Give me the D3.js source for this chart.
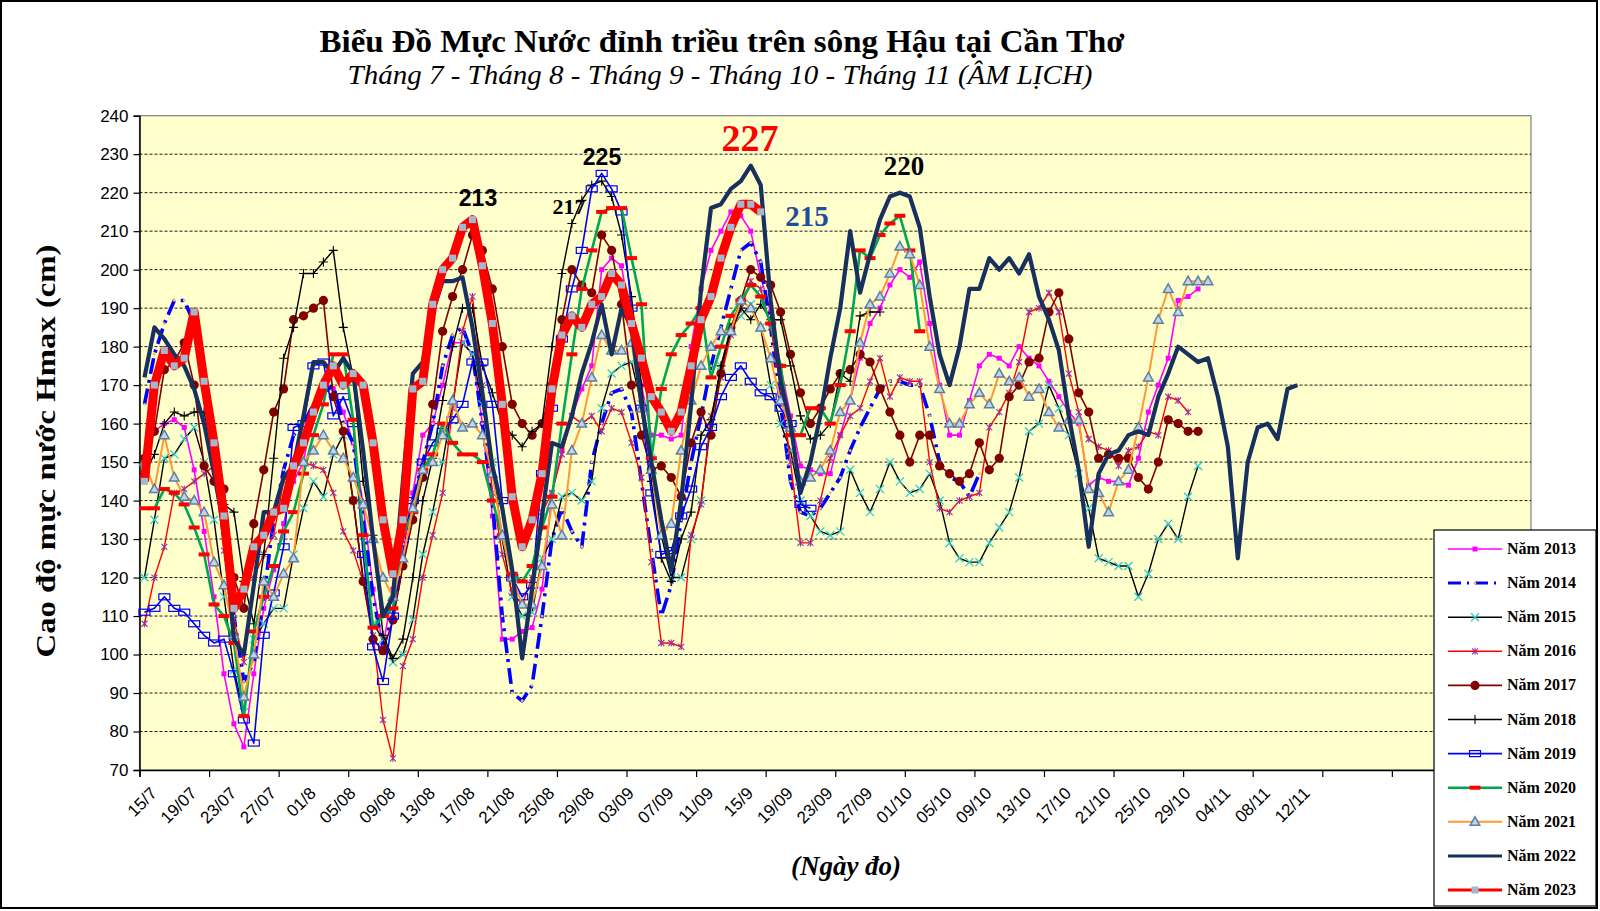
<!DOCTYPE html>
<html><head><meta charset="utf-8">
<script src="https://cdnjs.cloudflare.com/ajax/libs/d3/7.8.5/d3.min.js"></script>
<style>body{margin:0;background:#fff}svg{display:block}</style>
</head><body><svg id="c" width="1600" height="911"></svg>
<script>
// ---------- DATA ----------
const dayLabels = ["15/7","19/07","23/07","27/07","01/8","05/08","09/08","13/08","17/08","21/08","25/08","29/08","03/09","07/09","11/09","15/9","19/09","23/09","27/09","01/10","05/10","09/10","13/10","17/10","21/10","25/10","29/10","04/11","08/11","12/11"];
const yTicks = [70,80,90,100,110,120,130,140,150,160,170,180,190,200,210,220,230,240];
const seriesNames = ["Năm 2013","Năm 2014","Năm 2015","Năm 2016","Năm 2017","Năm 2018","Năm 2019","Năm 2020","Năm 2021","Năm 2022","Năm 2023"];

const y2013 = [150,158,160,161,159,148,132,115,95,82, 76,95,112,122,134,145,150,164,171,169, 163,155,139,117,102,117,126,142,157,160, 170,181,181,178,160,136,104,104,106,107, 117,142,153,162,169,175,200,203,201,185, 170,157,157,156,157,180,195,205,210,215, 214,210,198,189,175,162,149,148,147,147, 157,166,177,186,190,196,200,198,202,186, 170,157,157,166,175,178,177,175,180,177, 175,171,167,163,160,144,146,145,145,144, 151,163,170,177,192,193,195];
const y2014 = [165,178,186,192,192,186,170,150,130,110, 93,98,115,135,148,157,160,165,168,170, 160,155,135,115,102,110,125,140,150,160, 175,183,185,178,160,140,110,90,88,92, 110,130,138,132,128,150,160,168,169,163, 145,127,110,118,135,150,162,175,185,195, 205,207,202,185,165,145,137,136,138,142, 146,153,159,164,169,171,171,170,170,162, 150,146,145,141,147];
const y2015 = [120,135,151,152,156,159,150,135,115,96, 85,104,108,112,112,126,138,145,141,152, 157,140,120,108,104,98,100,109,126,137, 150,165,181,178,165,150,130,115,110,111, 125,130,141,142,140,145,164,173,175,176, 165,151,131,120,120,130,140,160,175,185, 188,191,185,170,160,153,140,136,132,131, 132,148,142,137,143,150,145,142,143,147, 140,129,125,124,124,129,133,137,146,158, 160,170,164,157,147,138,125,124,123,123, 115,121,130,134,130,141,149];
const y2016 = [108,120,128,142,143,145,147,149,127,109, 98,120,126,131,145,149,150,149,148,142, 132,127,119,105,83,73,97,104,120,131, 142,164,184,193,170,142,126,116,113,120, 137,142,152,162,160,162,158,164,163,155, 146,124,103,103,102,131,139,162,172,183, 190,197,195,185,170,150,129,129,140,151, 157,162,164,171,177,167,172,171,171,150, 138,137,140,141,142,159,163,168,176,189, 190,194,189,173,163,156,154,153,149,153, 154,158,157,167,166,163];
const y2017 = [151,158,174,176,181,170,149,145,143,120, 112,134,148,163,169,187,188,190,192,167, 158,140,119,104,101,109,123,135,146,165, 184,193,200,209,205,195,180,165,160,157, 160,170,187,200,196,194,209,205,191,170, 157,148,149,146,141,155,163,157,173,185, 192,200,198,196,189,178,168,160,164,169, 173,174,178,176,169,163,157,150,157,157, 149,147,145,147,155,148,151,167,170,176, 177,189,194,182,168,163,151,152,151,151, 146,143,150,161,160,158,158];
const y2018 = [147,152,160,163,162,163,163,151,139,137, 119,108,126,151,177,185,199,199,202,205, 185,172,145,131,105,99,104,120,140,151, 166,180,190,190,175,168,160,157,154,158, 160,180,199,212,218,222,223,219,209,193, 170,145,125,119,130,137,157,161,175,184, 190,187,191,187,187,175,162,156,157,160, 173,171,188,189,189];
const y2019 = [111,112,115,112,111,108,105,103,104,95, 83,77,105,116,128,159,160,175,176,162, 167,160,126,102,93,110,130,140,150,155, 158,161,165,176,176,165,140,120,115,118, 147,164,182,195,205,221,225,221,215,190, 164,142,126,127,136,143,154,159,167,172, 175,171,168,167,164,160,139,138];
const y2020 = [138,138,143,142,139,133,126,113,110,103, 84,106,115,123,132,137,147,157,165,178, 178,161,131,107,110,112,131,137,148,152, 160,155,152,152,150,140,131,121,119,123, 133,141,160,178,195,205,215,216,216,203, 191,151,169,178,183,186,190,172,180,188, 192,196,193,186,175,157,157,164,164,160, 170,184,205,203,209,212,214,205,184];
const y2021 = [150,143,157,146,141,140,137,124,118,105, 89,100,119,115,121,125,150,153,157,153, 151,146,139,130,120,115,125,138,148,150, 157,166,159,160,157,147,131,120,113,113, 123,139,131,153,160,172,183,179,179,181, 164,148,131,134,153,166,175,180,184,184, 192,190,185,177,166,159,145,146,148,153, 163,166,181,191,193,199,206,204,196,180, 169,160,160,165,168,165,173,171,172,167, 169,163,159,161,161,143,142,137,145,148, 159,172,187,195,189,197,197,197];
const y2022 = [172,185,182,178,175,169,160,147,133,104, 100,118,137,137,146,149,162,176,176,173, 177,173,153,130,110,115,145,173,176,189, 197,197,198,185,168,149,138,122,99,117, 136,155,154,162,173,181,191,178,190,185, 165,150,135,122,140,165,195,216,217,221, 223,227,222,192,171,160,142,150,162,177, 190,210,194,204,213,219,220,219,211,193, 178,170,180,195,195,203,200,203,199,204, 193,187,179,162,148,128,147,152,153,157, 158,157,167,173,180,178,176,177,167,154, 125,150,159,160,156,169,170];
const y2023 = [145,170,179,175,177,189,171,155,136,112, 117,128,131,137,138,149,155,163,170,175, 170,173,170,155,135,121,135,169,171,191, 200,203,211,213,201,186,165,141,128,135, 147,169,183,188,185,191,193,199,196,186, 177,167,163,158,163,175,187,193,203,211, 217,217,215];

const annotations = [
  {text:"213", x:478, y:206, size:23, fam:"Liberation Sans, Arial", color:"#000"},
  {text:"225", x:602, y:165, size:23, fam:"Liberation Sans, Arial", color:"#000"},
  {text:"217", x:569, y:214, size:22, fam:"Liberation Serif, Times New Roman", color:"#000"},
  {text:"227", x:750, y:151, size:38, fam:"Liberation Serif, Times New Roman", color:"#FF0000"},
  {text:"215", x:807, y:226, size:29, fam:"Liberation Serif, Times New Roman", color:"#1F4E99"},
  {text:"220", x:904, y:175, size:27, fam:"Liberation Serif, Times New Roman", color:"#000"}
];

// ---------- LAYOUT ----------
const svg = d3.select("#c");
const P = {l:139.5, r:1531, t:115.7, b:770};
const NCAT = 140;
const x = d3.scaleLinear().domain([0, NCAT]).range([P.l, P.r]);
const y = d3.scaleLinear().domain([70, 240]).range([P.b, P.t]);
const cx = d => x(d + 0.5);

svg.append("rect").attr("x",1).attr("y",1).attr("width",1596).attr("height",907)
  .attr("fill","#fff").attr("stroke","#000").attr("stroke-width",2);

svg.append("rect").attr("x",P.l).attr("y",P.t).attr("width",P.r-P.l).attr("height",P.b-P.t)
  .attr("fill","#FFFFCC").attr("stroke","#808080").attr("stroke-width",1.2);

svg.append("g").selectAll("line").data(yTicks.filter(v=>v>70 && v<240)).join("line")
  .attr("x1",P.l).attr("x2",P.r).attr("y1",d=>y(d)).attr("y2",d=>y(d))
  .attr("stroke","#000").attr("stroke-width",0.9).attr("stroke-dasharray","3,2");

const ya = svg.append("g").attr("transform",`translate(${P.l},0)`)
  .call(d3.axisLeft(y).tickValues(yTicks).tickSize(6).tickPadding(5));
ya.select(".domain").attr("stroke","#000").attr("stroke-width",1.5);
ya.selectAll(".tick line").attr("stroke","#000").attr("stroke-width",1.2);
ya.selectAll("text").attr("font-family","Liberation Sans, Arial").attr("font-size",17).attr("fill","#000");

const xa = svg.append("g").attr("transform",`translate(0,${P.b})`)
  .call(d3.axisBottom(x).tickValues(d3.range(0, NCAT+1, 7)).tickSize(7).tickFormat(""));
xa.select(".domain").attr("stroke","#000").attr("stroke-width",1.5);
xa.selectAll(".tick line").attr("stroke","#000").attr("stroke-width",1.2);

svg.append("g").selectAll("text").data(dayLabels).join("text")
  .attr("transform",(d,i)=>`translate(${cx(i*4)+5},${P.b+16}) rotate(-45)`)
  .attr("text-anchor","end").attr("dy","0.7em")
  .attr("font-family","Liberation Sans, Arial").attr("font-size",17).attr("fill","#000")
  .text(d=>d);

svg.append("g").selectAll("text").data(annotations).join("text")
  .attr("x",d=>d.x).attr("y",d=>d.y).attr("text-anchor","middle")
  .attr("font-family",d=>d.fam).attr("font-size",d=>d.size).attr("font-weight","bold")
  .attr("fill",d=>d.color).text(d=>d.text);

// ---------- SERIES ----------
const series = [
  {data:y2013, color:"#FF00FF", w:1.6, dash:null, marker:"sq", mc:"#FF00FF"},
  {data:y2014, color:"#0000FF", w:3.6, dash:"16,6,3,6", marker:"dot", mc:"#F0C060"},
  {data:y2015, color:"#000000", w:1.4, dash:null, marker:"x", mc:"#33CCCC"},
  {data:y2016, color:"#FF0000", w:1.4, dash:null, marker:"ast", mc:"#993399"},
  {data:y2017, color:"#800000", w:1.6, dash:null, marker:"circ", mc:"#800000"},
  {data:y2018, color:"#000000", w:1.4, dash:null, marker:"plus", mc:"#000000"},
  {data:y2019, color:"#0000FF", w:1.6, dash:null, marker:"hrect", mc:"#0000FF"},
  {data:y2020, color:"#00A651", w:2.6, dash:null, marker:"rdash", mc:"#FF0000"},
  {data:y2021, color:"#FF9933", w:2, dash:null, marker:"tri", mc:"#5B7FA8"},
  {data:y2022, color:"#17305E", w:4.2, dash:null, marker:null, mc:null},
  {data:y2023, color:"#FF0000", w:9, dash:null, marker:"gsq", mc:"#A3B8CC"}
];

function drawMarker(g, type, mc, px, py){
  switch(type){
    case "sq": g.append("rect").attr("x",px-2.5).attr("y",py-2.5).attr("width",5).attr("height",5).attr("fill",mc); break;
    case "dot": g.append("circle").attr("cx",px).attr("cy",py).attr("r",1.4).attr("fill",mc); break;
    case "x": g.append("path").attr("d",`M${px-4},${py-4}L${px+4},${py+4}M${px-4},${py+4}L${px+4},${py-4}`).attr("stroke",mc).attr("stroke-width",1.3); break;
    case "ast": g.append("path").attr("d",`M${px-3},${py-3}L${px+3},${py+3}M${px-3},${py+3}L${px+3},${py-3}M${px},${py-3.5}L${px},${py+3.5}`).attr("stroke",mc).attr("stroke-width",1.1); break;
    case "circ": g.append("circle").attr("cx",px).attr("cy",py).attr("r",4.6).attr("fill",mc); break;
    case "plus": g.append("path").attr("d",`M${px-4.5},${py}L${px+4.5},${py}M${px},${py-4.5}L${px},${py+4.5}`).attr("stroke",mc).attr("stroke-width",1.1); break;
    case "hrect": g.append("rect").attr("x",px-5.5).attr("y",py-3).attr("width",11).attr("height",6).attr("fill","none").attr("stroke",mc).attr("stroke-width",1.2); break;
    case "rdash": g.append("rect").attr("x",px-5.5).attr("y",py-2).attr("width",11).attr("height",4).attr("fill",mc); break;
    case "tri": g.append("path").attr("d",`M${px},${py-5}L${px+4.8},${py+3.5}L${px-4.8},${py+3.5}Z`).attr("fill","#C5D3E3").attr("stroke",mc).attr("stroke-width",1.5); break;
    case "gsq": g.append("rect").attr("x",px-3.5).attr("y",py-3.5).attr("width",7).attr("height",7).attr("fill",mc); break;
  }
}

const line = d3.line().x((v,i)=>cx(i)).y(v=>y(v));
series.forEach(s=>{
  const g = svg.append("g");
  g.append("path").datum(s.data).attr("d",line).attr("fill","none")
    .attr("stroke",s.color).attr("stroke-width",s.w).attr("stroke-linejoin","round")
    .attr("stroke-dasharray",s.dash);
  if(s.marker) s.data.forEach((v,i)=>drawMarker(g, s.marker, s.mc, cx(i), y(v)));
});

// ---------- TITLES ----------
svg.append("text").attr("x",722).attr("y",52).attr("text-anchor","middle")
  .attr("font-family","Liberation Serif, Times New Roman").attr("font-weight","bold").attr("font-size",31)
  .attr("textLength",805).attr("lengthAdjust","spacingAndGlyphs")
  .text("Biểu Đồ Mực Nước đỉnh triều trên sông Hậu tại Cần Thơ");
svg.append("text").attr("x",720).attr("y",84).attr("text-anchor","middle")
  .attr("font-family","Liberation Serif, Times New Roman").attr("font-style","italic").attr("font-size",27)
  .attr("textLength",745).attr("lengthAdjust","spacingAndGlyphs")
  .text("Tháng 7 - Tháng 8 - Tháng 9 - Tháng 10 - Tháng 11 (ÂM LỊCH)");
svg.append("text").attr("transform","translate(55,451) rotate(-90)").attr("text-anchor","middle")
  .attr("font-family","Liberation Serif, Times New Roman").attr("font-weight","bold").attr("font-size",28)
  .attr("textLength",413).attr("lengthAdjust","spacingAndGlyphs")
  .text("Cao độ mực nước Hmax (cm)");
svg.append("text").attr("x",846).attr("y",875).attr("text-anchor","middle")
  .attr("font-family","Liberation Serif, Times New Roman").attr("font-weight","bold").attr("font-style","italic").attr("font-size",27)
  .text("(Ngày đo)");

// ---------- LEGEND ----------
const lg = svg.append("g");
lg.append("rect").attr("x",1434).attr("y",530).attr("width",162).attr("height",376)
  .attr("fill","#fff").attr("stroke","#000").attr("stroke-width",1.2);
series.forEach((s,i)=>{
  const ly = 549 + i*34.1;
  lg.append("line").attr("x1",1448).attr("x2",1502).attr("y1",ly).attr("y2",ly)
    .attr("stroke",s.color).attr("stroke-width",Math.min(s.w,3)).attr("stroke-dasharray",s.dash ? "13,6,2,6" : null);
  if(s.marker) drawMarker(lg, s.marker, s.mc, 1475, ly);
  lg.append("text").attr("x",1507).attr("y",ly+5).attr("font-family","Liberation Serif, Times New Roman")
    .attr("font-weight","bold").attr("font-size",16).text(seriesNames[i]);
});
</script></body></html>
